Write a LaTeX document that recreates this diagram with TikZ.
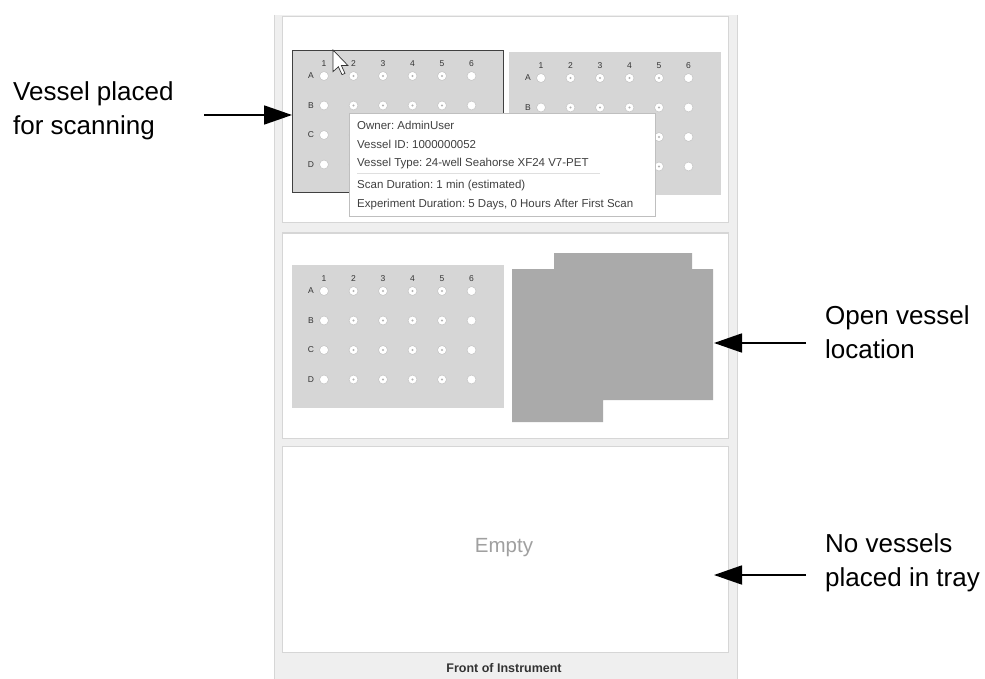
\documentclass[tikz,border=0pt]{standalone}
\usepackage{fontspec}
\setmainfont{Liberation Sans}
\frenchspacing
\usepackage{tikz}
\usetikzlibrary{arrows.meta, positioning, calc}
\definecolor{panelgray}{RGB}{239,239,239}
\definecolor{edgegray}{RGB}{214,214,214}
\definecolor{plategray}{RGB}{214,214,214}
\definecolor{openvessel}{RGB}{170,170,170}
\definecolor{emptygray}{RGB}{160,160,160}
\tikzset{
    trayzone/.style={rectangle, draw=edgegray, fill=white, line width=1pt},
    plate/.style={rectangle, fill=plategray, minimum width=211pt, minimum height=142pt, anchor=north west, inner sep=0pt},
    well/.style={circle, draw=gray!45, fill=white, minimum size=9pt, inner sep=0pt, line width=0.6pt},
    welldot/.style={circle, fill=gray!60, minimum size=2.4pt, inner sep=0pt},
    welllbl/.style={font=\fontsize{8.5}{9}\selectfont, text=black!80, inner sep=0pt},
    callout/.style={font=\fontsize{26}{34}\selectfont, align=left, inner sep=0pt},
    pointer/.style={-{Triangle[length=28pt, width=19pt]}, line width=1.8pt, black},
}

\begin{document}
\begin{tikzpicture}[
    x=1pt, y=-1pt,
    tiptxt/.style={font=\fontsize{11.5}{14}\selectfont, text=black!75, anchor=base west, inner sep=0pt},
]
\useasboundingbox (0,0) rectangle (985,679);

% Instrument panel and its three tray positions
\fill[panelgray] (274,15) rectangle (737,679);
\draw[edgegray, line width=1pt] (274,15) -- (274,679) (737,15) -- (737,679);
\draw[trayzone] (282,17) rectangle (728,223);
\draw[trayzone] (282,233) rectangle (728,438);
\draw[trayzone] (282,446) rectangle (728,652);

% Vessels: name / north west corner / border / row letters left visible
\foreach \p/\px/\py/\bd/\rows in {A/292/50/black!75/{A/1,B/2,C/3,D/4}, B/509/52/plategray/{A/1,B/2}, C/292/265/plategray/{A/1,B/2,C/3,D/4}}{
    \node[plate, draw=\bd, line width=1.2pt] (plate\p) at (\px,\py) {};
    \foreach \c in {1,...,6}{
        \node[welllbl] (plate\p-n\c) at ($(\px,\py)+(32+29.5*\c-29.5,14)$) {\c};
    }
    \foreach \r/\i in \rows{
        \node[welllbl] (plate\p-\r) at ($(\px,\py)+(19,26+29.5*\i-29.5)$) {\r};
    }
    \foreach \r [count=\i] in {A,B,C,D}{
        \foreach \c in {1,...,6}{
            \node[well] (plate\p-\r\c) at ($(\px,\py)+(32+29.5*\c-29.5,26+29.5*\i-29.5)$) {};
        }
        \foreach \c in {2,...,5}{
            \node[welldot] at (plate\p-\r\c) {};
        }
    }
}

% Open vessel location
\fill[openvessel] (512,269) -- (554,269) -- (554,253) -- (692,253) -- (692,269) -- (713,269)
    -- (713,400) -- (603,400) -- (603,422) -- (512,422) -- cycle;
\coordinate (openloc) at (714,343);

% Empty tray position
\node[font=\fontsize{20.5}{22}\selectfont, text=emptygray] (emptytxt) at (504,548) {Empty};
\coordinate (emptyloc) at (714,575);

% Footer
\node[font=\fontsize{12.5}{14}\selectfont\bfseries, text=black!80] (front) at (504,668) {Front of Instrument};

% Tooltip over the selected vessel
\node[rectangle, draw=gray!50, fill=white, minimum width=306pt, minimum height=103pt, anchor=north west, inner sep=0pt] (tip) at (349,113) {};
\foreach \t/\ty/\tn in {Owner: AdminUser/130/owner, Vessel ID: 1000000052/148.5/vid,
    Vessel Type: 24-well Seahorse XF24 V7-PET/167/vtype,
    Scan Duration: 1 min (estimated)/189/scan,
    Experiment Duration: 5 Days{,} 0 Hours After First Scan/207.5/exp}{
    \node[tiptxt] (tip-\tn) at (357,\ty) {\t};
}
\draw[gray!25, line width=0.8pt] (357,173) -- (600,173);

% Mouse cursor
\draw[black!80, fill=white, line width=0.7pt, shift={(333,50)}, scale=1.2]
    (0,0) -- (0,18) -- (4.5,14) -- (7.5,20.5) -- (10,19.5) -- (7,13) -- (12.5,13) -- cycle;

% Callouts
\node[callout, anchor=west] (lblscan) at (13,111) {Vessel placed\\for scanning};
\node[callout, anchor=west] (lblopen) at (825,332) {Open vessel\\location};
\node[callout, anchor=west] (lblempty) at (825,563) {No vessels\\placed in tray};

% Arrows
\coordinate (scanfrom) at (204,115);
\coordinate (openfrom) at (806,343);
\coordinate (emptyfrom) at (806,575);
\draw[pointer] (scanfrom) -- (scanfrom -| plateA.west);
\draw[pointer] (openfrom) -- (openloc);
\draw[pointer] (emptyfrom) -- (emptyloc);

\end{tikzpicture}
\end{document}
